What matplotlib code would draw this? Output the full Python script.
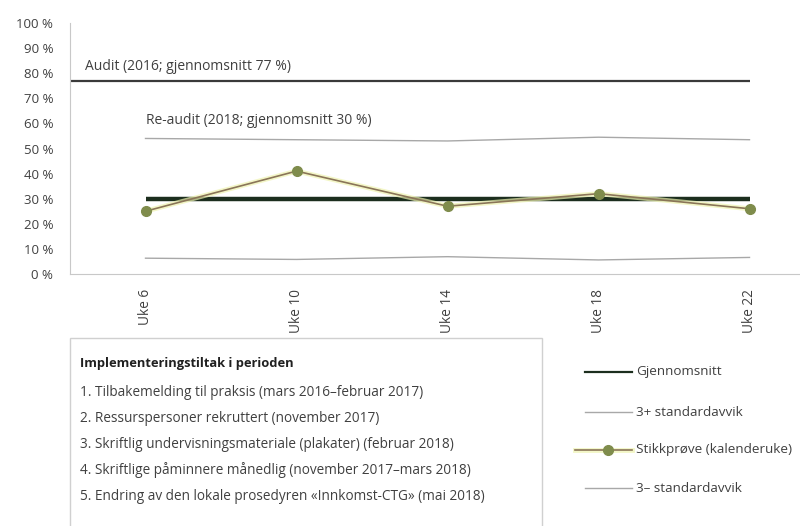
import matplotlib

matplotlib.use("Agg")
import matplotlib.pyplot as plt
from matplotlib.lines import Line2D
from matplotlib.patches import Rectangle

plt.rcParams["font.family"] = ["Open Sans", "DejaVu Sans"]

weeks = ["Uke 6", "Uke 10", "Uke 14", "Uke 18", "Uke 22"]
sample = [25, 41, 27, 32, 26]
upper_sd = [54, 53.5, 53, 54.5, 53.5]
lower_sd = [6.3, 5.8, 6.9, 5.6, 6.6]
mean_value = 30
audit_value = 77
y_ticks = [0, 10, 20, 30, 40, 50, 60, 70, 80, 90, 100]

actions_title = "Implementeringstiltak i perioden"
actions = [
    "1. Tilbakemelding til praksis (mars 2016\u2013februar 2017)",
    "2. Ressurspersoner rekruttert (november 2017)",
    "3. Skriftlig undervisningsmateriale (plakater) (februar 2018)",
    "4. Skriftlige påminnere månedlig (november 2017\u2013mars 2018)",
    "5. Endring av den lokale prosedyren \u00abInnkomst-CTG\u00bb (mai 2018)",
]
legend_labels = ["Gjennomsnitt", "3+ standardavvik", "Stikkprøve (kalenderuke)", "3\u2013 standardavvik"]

TEXT = "#404040"
W, H = 800, 526

fig = plt.figure(figsize=(8, 5.26), dpi=100)
ax = fig.add_axes([70 / W, 1 - 274 / H, 755 / W, 251 / H])
x = list(range(len(weeks)))

ax.hlines(audit_value, -0.5, x[-1], color="#3a3a3a", lw=1.6)
ax.plot(x, upper_sd, color="#a8a8a8", lw=1.0)
ax.plot(x, lower_sd, color="#a8a8a8", lw=1.0)
ax.hlines(mean_value, x[0], x[-1], color="#1c2e1e", lw=3.2, zorder=3)
ax.plot(x, sample, color="#eef3b0", lw=3.5, alpha=0.7, zorder=4)
ax.plot(x, sample, color="#8a7558", lw=1.2, zorder=5)
ax.plot(x, sample, "o", ms=7, color="#7f8c4c", zorder=6)

ax.text(-0.4, audit_value + 2.5, "Audit (2016; gjennomsnitt 77 %)", fontsize=10, color=TEXT, va="bottom")
ax.text(0, 58, "Re-audit (2018; gjennomsnitt 30 %)", fontsize=10, color=TEXT, va="bottom")

ax.set_xlim(-0.5, len(weeks) - 0.5)
ax.set_ylim(0, 100)
ax.set_yticks(y_ticks)
ax.set_yticklabels([f"{v} %" for v in y_ticks], fontsize=9.5, color=TEXT)
ax.set_xticks(x)
ax.set_xticklabels(weeks, rotation=90, fontsize=9.8, color=TEXT)
ax.tick_params(axis="y", length=0, pad=12)
ax.tick_params(axis="x", length=0, pad=11)
for side in ["top", "right"]:
    ax.spines[side].set_visible(False)
for side in ["left", "bottom"]:
    ax.spines[side].set_color("#c8c8c8")

# implementation box
fig.patches.append(Rectangle((70 / W, -0.01), 472 / W, (H - 338) / H + 0.01,
                             transform=fig.transFigure, fill=False,
                             edgecolor="#d0d0d0", lw=1))
fig.text(80 / W, 1 - 363 / H, actions_title, fontsize=9.3, fontweight="bold",
         color="#202020", va="center")
for i, line in enumerate(actions):
    fig.text(80 / W, 1 - (392 + 26 * i) / H, line, fontsize=9.8, color=TEXT, va="center")

# series legend
leg_y = [372, 412, 450, 488]
styles = [
    dict(color="#1c2e1e", lw=1.6),
    dict(color="#a8a8a8", lw=1.0),
    dict(color="#8a7558", lw=1.2),
    dict(color="#a8a8a8", lw=1.0),
]
for yy, label, st in zip(leg_y, legend_labels, styles):
    yf = 1 - yy / H
    is_sample = label.startswith("Stikk")
    x0 = 575 if is_sample else 585
    if is_sample:
        fig.add_artist(Line2D([x0 / W, 632 / W], [yf, yf], color="#eef3b0", lw=3.5, alpha=0.7))
    fig.add_artist(Line2D([x0 / W, 632 / W], [yf, yf], **st))
    if is_sample:
        fig.add_artist(Line2D([608 / W], [yf], marker="o", ms=7, color="#7f8c4c", lw=0))
    fig.text(636 / W, yf, label, fontsize=9.7, color=TEXT, va="center")

fig.savefig("out.png", dpi=100)
